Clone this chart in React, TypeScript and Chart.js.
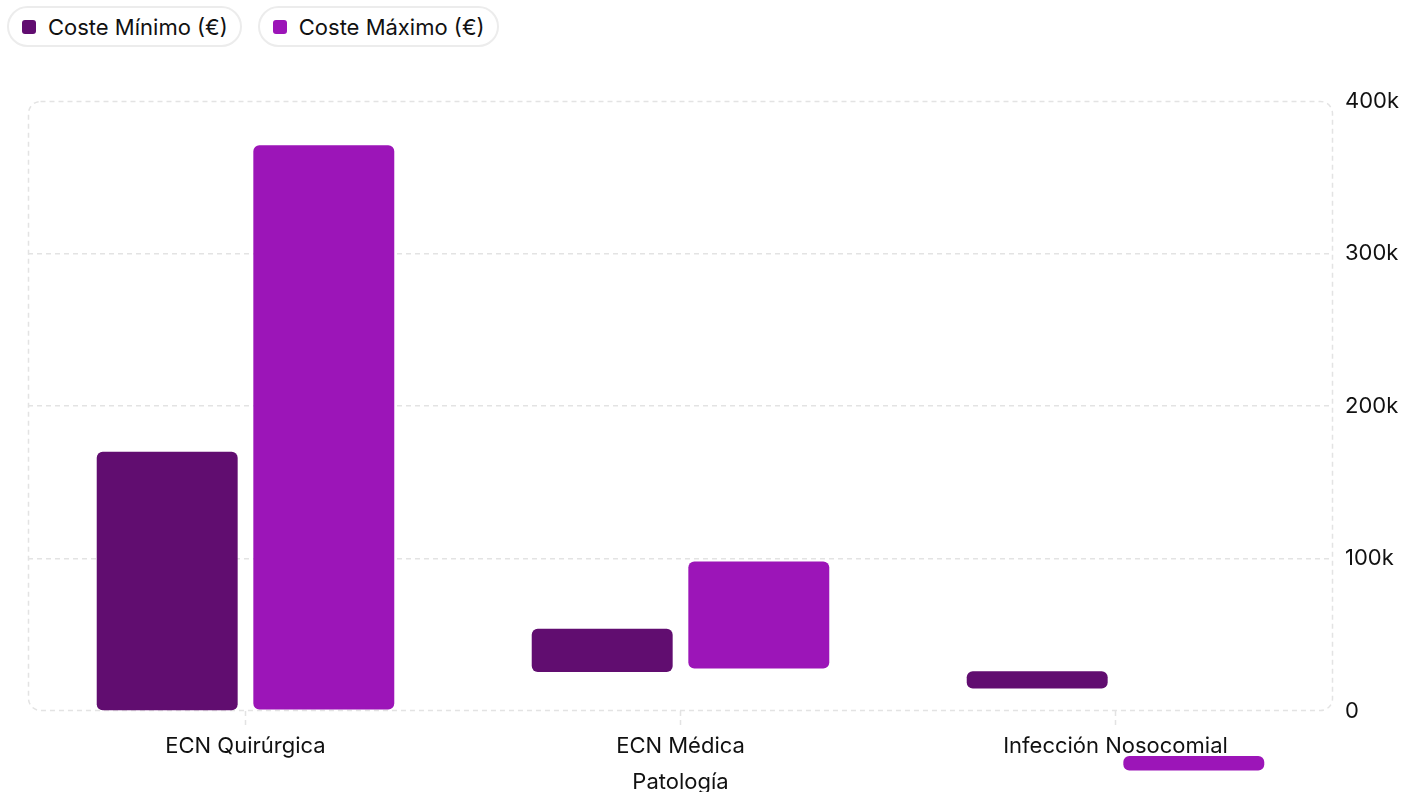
import React, { useEffect, useRef } from "react";
import { Chart, registerables } from "chart.js";

Chart.register(...registerables);

const categories = ["ECN Quirúrgica", "ECN Médica", "Infección Nosocomial"];
const minLabel = "Coste Mínimo (€)";
const maxLabel = "Coste Máximo (€)";
const minRanges: [number, number][] = [
  [0, 170000],
  [25500, 54000],
  [14800, 26000],
];
const maxRanges: [number, number][] = [
  [1000, 371000],
  [27800, 98000],
  [-39000, -29500],
];
const yTicks = [0, 100000, 200000, 300000, 400000];
const xTitle = "Patología";

const MIN_COLOR = "#610d70";
const MAX_COLOR = "#9c15b8";
const GRID = "#e3e3e3";
const FONT = "Inter, 'Noto Sans', sans-serif";
const FS = 22;

const roundedFrame = {
  id: "roundedFrame",
  beforeDatasetsDraw(chart: any) {
    const { ctx, chartArea } = chart;
    const { left, top, right, bottom } = chartArea;
    ctx.save();
    ctx.strokeStyle = GRID;
    ctx.lineWidth = 1.5;
    ctx.setLineDash([5, 4]);
    ctx.beginPath();
    ctx.roundRect(left + 0.5, top + 0.5, right - left - 1, bottom - top - 1, 12);
    ctx.stroke();
    ctx.restore();
  },
};

export default function App() {
  const ref = useRef<HTMLCanvasElement>(null);

  useEffect(() => {
    document.body.style.margin = "0";
    document.body.style.overflow = "hidden";
    const chart = new Chart(ref.current!, {
      type: "bar",
      data: {
        labels: categories,
        datasets: [
          {
            label: minLabel,
            data: minRanges as any,
            backgroundColor: MIN_COLOR,
            borderRadius: 6,
            borderSkipped: false,
            clip: false as any,
          },
          {
            label: maxLabel,
            data: maxRanges as any,
            backgroundColor: MAX_COLOR,
            borderRadius: 6,
            borderSkipped: false,
            clip: false as any,
          },
        ],
      },
      options: {
        responsive: true,
        maintainAspectRatio: false,
        animation: false,
        categoryPercentage: 0.72,
        barPercentage: 0.9,
        layout: { padding: { left: 28, right: 0, top: 101, bottom: 0 } },
        plugins: {
          legend: { display: false },
          tooltip: { enabled: false },
        },
        scales: {
          x: {
            afterFit: (axis: any) => {
              axis.height = 81;
            },
            grid: {
              offset: false,
              drawOnChartArea: false,
              drawTicks: true,
              tickLength: 15,
              tickColor: GRID,
              tickWidth: 1.5,
              tickBorderDash: [5, 4],
            },
            border: { display: false },
            ticks: {
              padding: 7,
              color: "#111",
              font: { family: FONT, size: FS },
            },
            title: {
              display: true,
              text: xTitle,
              color: "#111",
              font: { family: FONT, size: FS },
              padding: { top: 8, bottom: -4 },
            },
          },
          y: {
            position: "right",
            min: 0,
            max: 400000,
            afterFit: (axis: any) => {
              axis.width = 70;
            },
            afterBuildTicks: (axis: any) => {
              axis.ticks = yTicks.map((v) => ({ value: v }));
            },
            grid: {
              drawTicks: false,
              lineWidth: 1.5,
              color: (c: any) =>
                c.tick && (c.tick.value === 0 || c.tick.value === 400000)
                  ? "rgba(0,0,0,0)"
                  : GRID,
            },
            border: { display: false, dash: [5, 4] },
            ticks: {
              padding: 12,
              color: "#111",
              font: { family: FONT, size: FS },
              callback: (v: any) => (v === 0 ? "0" : `${Number(v) / 1000}k`),
            },
          },
        },
      },
      plugins: [roundedFrame],
    });
    return () => chart.destroy();
  }, []);

  const pill = (color: string, text: string) => (
    <div
      style={{
        display: "flex",
        alignItems: "center",
        height: 37,
        padding: "0 12px 0 13px",
        border: "2px solid #ececec",
        borderRadius: 999,
        fontFamily: FONT,
        fontSize: FS,
        color: "#111",
        background: "#fff",
        whiteSpace: "nowrap",
      }}
    >
      <span
        style={{
          display: "inline-block",
          width: 14,
          height: 14,
          borderRadius: 3,
          background: color,
          marginRight: 12,
        }}
      />
      {text}
    </div>
  );

  return (
    <div style={{ position: "relative", width: 1403, height: 792 }}>
      <div style={{ position: "absolute", left: 0, top: 0, width: 1403, height: 792 }}>
        <canvas ref={ref} />
      </div>
      <div
        style={{
          position: "absolute",
          left: 7,
          top: 6,
          display: "flex",
          gap: 16,
          zIndex: 2,
        }}
      >
        {pill(MIN_COLOR, minLabel)}
        {pill(MAX_COLOR, maxLabel)}
      </div>
    </div>
  );
}
